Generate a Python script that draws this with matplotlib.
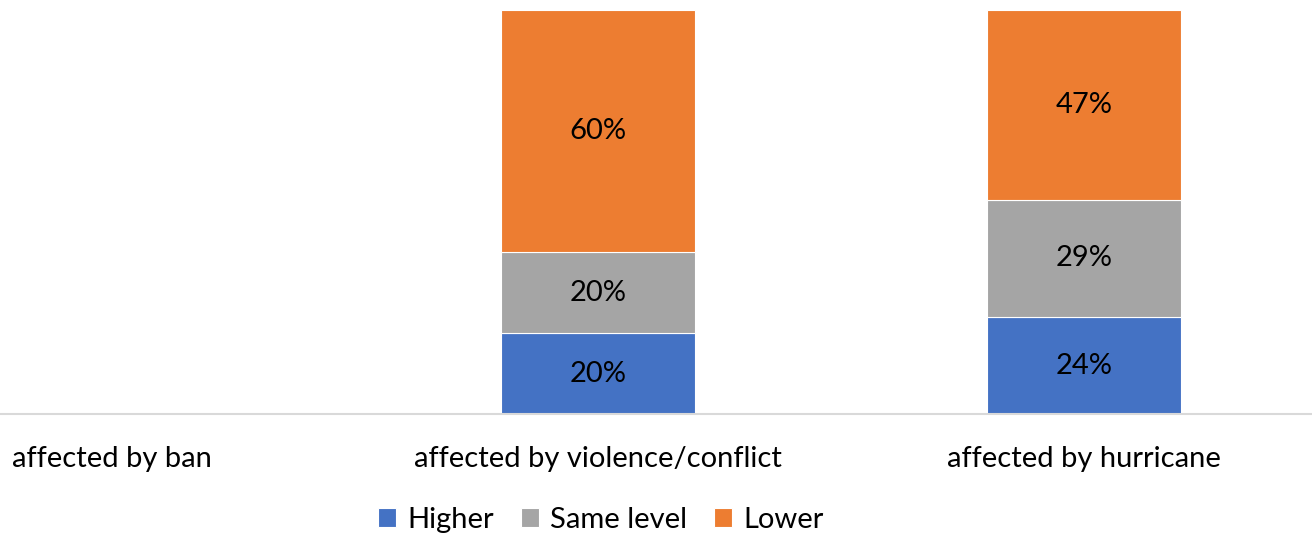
import matplotlib
matplotlib.use("Agg")
import matplotlib.pyplot as plt
import numpy as np

# data (percent shares per category)
categories = ["affected by ban", "affected by violence/conflict", "affected by hurricane"]
higher = [0, 20, 24]
same_level = [0, 20, 29]
lower = [0, 60, 47]
series_names = ["Higher", "Same level", "Lower"]
colors = ["#4472C4", "#A5A5A5", "#ED7D31"]

plt.rcParams['font.family'] = ['Lato', 'DejaVu Sans']

fig = plt.figure(figsize=(13.12, 5.34), dpi=100)
ax = fig.add_axes([0, 1 - 414 / 534, 1, 404 / 534])

x = np.arange(len(categories))
width = 0.4
bottom = np.zeros(len(categories))
handles = []
for vals, name, col in zip([higher, same_level, lower], series_names, colors):
    vals = np.array(vals, dtype=float)
    b = ax.bar(x, vals, width, bottom=bottom, color=col, edgecolor="white",
               linewidth=0.8, label=name)
    handles.append(b)
    for xi, v, bt in zip(x, vals, bottom):
        if v > 0:
            ax.text(xi, bt + v / 2, f"{v:.0f}%", ha="center", va="center",
                    fontsize=21, color="black")
    bottom += vals

ax.set_xlim(-112 / 486, (1312 - 112) / 486)
ax.set_ylim(0, 100)
ax.set_yticks([])
ax.set_xticks(x)
ax.set_xticklabels(categories, fontsize=21)
ax.tick_params(axis="x", length=0, pad=23)
for s in ["top", "left", "right"]:
    ax.spines[s].set_visible(False)
ax.spines["bottom"].set_color("#D9D9D9")
ax.spines["bottom"].set_linewidth(1.5)

fig.legend(handles=handles, labels=series_names, loc="center",
           bbox_to_anchor=(0.458, 1 - 520 / 534), ncol=3, frameon=False,
           fontsize=21, handlelength=0.62, handleheight=0.62, handletextpad=0.4,
           columnspacing=0.9, borderaxespad=0)

fig.savefig("out.png", dpi=100)
